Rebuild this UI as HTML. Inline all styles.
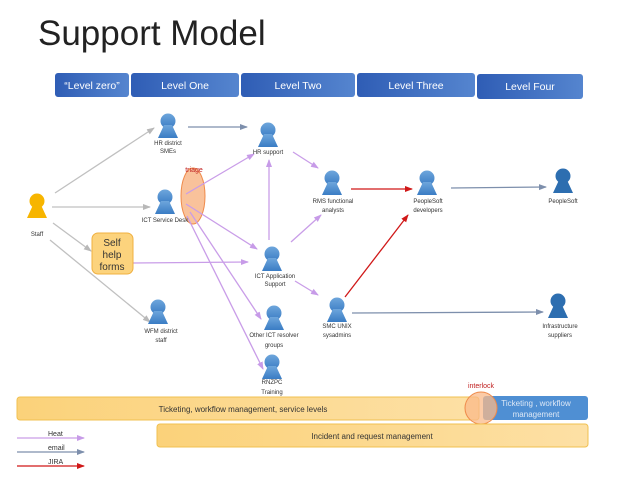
<!DOCTYPE html>
<html><head><meta charset="utf-8"><style>
html,body{margin:0;padding:0;background:#fff;}
svg{display:block;font-family:"Liberation Sans",sans-serif;}
</style></head><body>
<svg width="638" height="479" viewBox="0 0 638 479" xmlns="http://www.w3.org/2000/svg">
<defs>
<linearGradient id="lv" x1="0" y1="0" x2="1" y2="0"><stop offset="0" stop-color="#2f5db5"/><stop offset="1" stop-color="#5585cf"/></linearGradient>
<linearGradient id="yb" x1="0" y1="0" x2="1" y2="0"><stop offset="0" stop-color="#fbd27a"/><stop offset="1" stop-color="#fde0a5"/></linearGradient>
<linearGradient id="pb" x1="0" y1="0" x2="0" y2="1"><stop offset="0" stop-color="#6ea6dc"/><stop offset="1" stop-color="#3a7cc4"/></linearGradient>
<marker id="ag" markerWidth="8" markerHeight="8" refX="7" refY="4" orient="auto" markerUnits="userSpaceOnUse"><path d="M0,1 L8,4 L0,7z" fill="#b8b8b8"/></marker>
<marker id="ab" markerWidth="8" markerHeight="8" refX="7" refY="4" orient="auto" markerUnits="userSpaceOnUse"><path d="M0,1 L8,4 L0,7z" fill="#7d8fac"/></marker>
<marker id="ap" markerWidth="8" markerHeight="8" refX="7" refY="4" orient="auto" markerUnits="userSpaceOnUse"><path d="M0,1 L8,4 L0,7z" fill="#c79be8"/></marker>
<marker id="ar" markerWidth="8" markerHeight="8" refX="7" refY="4" orient="auto" markerUnits="userSpaceOnUse"><path d="M0,1 L8,4 L0,7z" fill="#d01818"/></marker>
<g id="pp"><circle cx="0" cy="0" r="7.5"/><path d="M-4,4 L4,4 L10,17 L-10,17z"/></g>
</defs>
<text x="38" y="45" font-size="35" fill="#222">Support Model</text>
<g font-size="10.5" fill="#fff" text-anchor="middle">
<rect x="55" y="73" width="74" height="24" rx="3" fill="url(#lv)"/><text x="92" y="89">“Level zero”</text>
<rect x="131" y="73" width="108" height="24" rx="3" fill="url(#lv)"/><text x="185" y="89">Level One</text>
<rect x="241" y="73" width="114" height="24" rx="3" fill="url(#lv)"/><text x="298" y="89">Level Two</text>
<rect x="357" y="73" width="118" height="24" rx="3" fill="url(#lv)"/><text x="416" y="89">Level Three</text>
<rect x="477" y="74" width="106" height="25" rx="3" fill="url(#lv)"/><text x="530" y="90">Level Four</text>
</g>
<ellipse cx="193" cy="196" rx="12" ry="28" fill="#f9c29b" stroke="#ef8a4a"/>
<text x="194" y="172" font-size="7" fill="#c02020" text-anchor="middle">triage</text>
<g fill="none" stroke-width="1.3">
<line x1="55" y1="193" x2="154" y2="128" stroke="#c0c0c0" marker-end="url(#ag)"/>
<line x1="52" y1="207" x2="150" y2="207" stroke="#c0c0c0" marker-end="url(#ag)"/>
<line x1="53" y1="223" x2="91" y2="251" stroke="#c0c0c0" marker-end="url(#ag)"/>
<line x1="50" y1="240" x2="150" y2="322" stroke="#c0c0c0" marker-end="url(#ag)"/>
<line x1="188" y1="127" x2="247" y2="127" stroke="#7d8fac" marker-end="url(#ab)"/>
<line x1="451" y1="188" x2="546" y2="187" stroke="#7d8fac" marker-end="url(#ab)"/>
<line x1="352" y1="313" x2="543" y2="312" stroke="#7d8fac" marker-end="url(#ab)"/>
<g stroke="#c99de8">
<line x1="186" y1="194" x2="254" y2="154" marker-end="url(#ap)"/>
<line x1="186" y1="204" x2="257" y2="249" marker-end="url(#ap)"/>
<line x1="190" y1="212" x2="261" y2="319" marker-end="url(#ap)"/>
<line x1="187" y1="216" x2="263" y2="369" marker-end="url(#ap)"/>
<line x1="133" y1="263" x2="248" y2="262" marker-end="url(#ap)"/>
<line x1="269" y1="240" x2="269" y2="160" marker-end="url(#ap)"/>
<line x1="293" y1="152" x2="318" y2="168" marker-end="url(#ap)"/>
<line x1="291" y1="242" x2="321" y2="215" marker-end="url(#ap)"/>
<line x1="295" y1="281" x2="318" y2="295" marker-end="url(#ap)"/>
</g>
<line x1="351" y1="189" x2="412" y2="189" stroke="#d01818" marker-end="url(#ar)"/>
<line x1="345" y1="297" x2="408" y2="215" stroke="#d01818" marker-end="url(#ar)"/>
</g>
<rect x="92" y="233" width="41" height="41" rx="6" fill="#fcd37d" stroke="#f0b040"/>
<g font-size="10" fill="#333" text-anchor="middle"><text x="112" y="246">Self</text><text x="112" y="258">help</text><text x="112" y="270">forms</text></g>
<use href="#pp" x="37" y="201" fill="#f7b500"/>
<g fill="url(#pb)">
<use href="#pp" x="168" y="121"/><use href="#pp" x="268" y="130"/><use href="#pp" x="165" y="197"/>
<use href="#pp" x="272" y="254"/><use href="#pp" x="332" y="178"/><use href="#pp" x="427" y="178"/>
<use href="#pp" x="337" y="305"/><use href="#pp" x="158" y="307"/><use href="#pp" x="274" y="313"/><use href="#pp" x="272" y="362"/>
</g>
<g fill="#2d6eb0"><use href="#pp" x="563" y="176"/><use href="#pp" x="558" y="301"/></g>
<g font-size="6" fill="#333" text-anchor="middle">
<text x="37" y="236">Staff</text>
<text x="168" y="145">HR district</text><text x="168" y="153">SMEs</text>
<text x="268" y="154">HR support</text>
<text x="165" y="222">ICT Service Desk</text>
<text x="275" y="278">ICT Application</text><text x="275" y="286">Support</text>
<text x="333" y="203">RMS functional</text><text x="333" y="212">analysts</text>
<text x="428" y="203">PeopleSoft</text><text x="428" y="212">developers</text>
<text x="563" y="203">PeopleSoft</text>
<text x="337" y="328">SMC UNIX</text><text x="337" y="337">sysadmins</text>
<text x="560" y="328">Infrastructure</text><text x="560" y="337">suppliers</text>
<text x="161" y="333">WFM district</text><text x="161" y="342">staff</text>
<text x="274" y="337">Other ICT resolver</text><text x="274" y="347">groups</text>
<text x="272" y="384">RNZPC</text><text x="272" y="394">Training</text>
</g>
<rect x="17" y="397" width="462" height="23" rx="3" fill="url(#yb)" stroke="#f0c050"/>
<text x="243" y="412" font-size="8" fill="#333" text-anchor="middle">Ticketing, workflow management, service levels</text>
<rect x="483" y="396" width="105" height="24" rx="3" fill="#4f8fd3"/>
<text x="536" y="406" font-size="8" fill="#dde8f6" text-anchor="middle">Ticketing , workflow</text>
<text x="536" y="417" font-size="8" fill="#dde8f6" text-anchor="middle">management</text>
<circle cx="481" cy="408" r="16" fill="#f9b98a" fill-opacity="0.75" stroke="#ef8a4a"/>
<text x="481" y="388" font-size="7" fill="#c02020" text-anchor="middle">interlock</text>
<rect x="157" y="424" width="431" height="23" rx="3" fill="url(#yb)" stroke="#f0c050"/>
<text x="372" y="439" font-size="8" fill="#333" text-anchor="middle">Incident and request management</text>
<g font-size="7" fill="#333">
<text x="48" y="436">Heat</text><line x1="17" y1="438" x2="84" y2="438" stroke="#c99de8" stroke-width="1.3" marker-end="url(#ap)"/>
<text x="48" y="450">email</text><line x1="17" y1="452" x2="84" y2="452" stroke="#7d8fac" stroke-width="1.3" marker-end="url(#ab)"/>
<text x="48" y="464">JIRA</text><line x1="17" y1="466" x2="84" y2="466" stroke="#d01818" stroke-width="1.3" marker-end="url(#ar)"/>
</g>
</svg>
</body></html>
